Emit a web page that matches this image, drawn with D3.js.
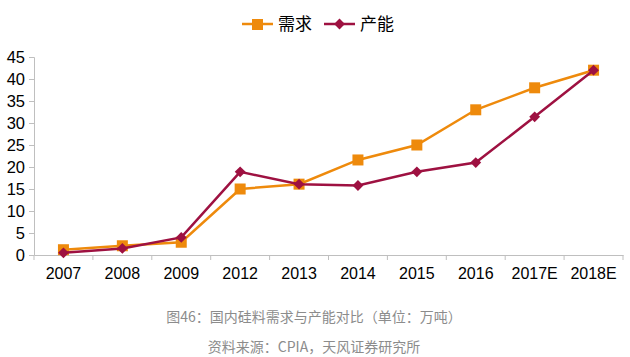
<!DOCTYPE html>
<html><head><meta charset="utf-8">
<script src="https://cdn.jsdelivr.net/npm/d3@7"></script>
<style>body{margin:0;background:#fff}svg{display:block}</style>
</head><body><svg id="c" width="630" height="357"></svg>
<script>
const categories = ["2007","2008","2009","2012","2013","2014","2015","2016","2017E","2018E"];
const demand = [1.2, 2.1, 2.9, 15, 16.1, 21.6, 25, 33, 38, 42];
const capacity = [0.5, 1.5, 4.0, 18.9, 16.1, 15.8, 18.9, 21, 31.4, 42];
const yTicks = [0,5,10,15,20,25,30,35,40,45];
const seriesNames = ["需求","产能"];
const captions = ["图46：国内硅料需求与产能对比（单位：万吨）","资料来源：CPIA，天风证券研究所"];

const svg = d3.select("#c");
const orange = "#EE8A0C", crimson = "#9E1141";
const x = d3.scaleBand().domain(categories).range([34, 623]);
const y = d3.scaleLinear().domain([0,45]).range([255, 57]);

// y axis
const ya = svg.append("g").attr("transform","translate(34,0)")
  .call(d3.axisLeft(y).tickValues(yTicks).tickSize(5).tickPadding(4));
ya.select(".domain").attr("stroke","#BFBFBF");
ya.selectAll(".tick line").attr("stroke","#BFBFBF");
ya.selectAll("text").attr("font-family","Liberation Sans, Arial, sans-serif").attr("font-size",16.5).attr("fill","#000");

// x axis
const xa = svg.append("g").attr("transform","translate(0,255)")
  .call(d3.axisBottom(x).tickSize(0).tickPadding(13));
xa.select(".domain").attr("stroke","#BFBFBF");
xa.selectAll("text").attr("font-family","Liberation Sans, Arial, sans-serif").attr("font-size",16).attr("fill","#000");
const bounds = categories.map(c => x(c)).concat([x.range()[1]]);
xa.selectAll(".bt").data(bounds).enter().append("line")
  .attr("x1",d=>d).attr("x2",d=>d).attr("y1",0).attr("y2",5).attr("stroke","#BFBFBF");

const cx = d => x(d) + x.bandwidth()/2;
const line = d3.line().x((d,i)=>cx(categories[i])).y(d=>y(d));

svg.append("path").datum(demand).attr("d",line).attr("fill","none").attr("stroke",orange).attr("stroke-width",2.5);
svg.selectAll(".sq").data(demand).enter().append("rect")
  .attr("x",(d,i)=>cx(categories[i])-5.5).attr("y",d=>y(d)-5.5).attr("width",11).attr("height",11).attr("fill",orange);

svg.append("path").datum(capacity).attr("d",line).attr("fill","none").attr("stroke",crimson).attr("stroke-width",2.5);
const dia = d3.symbol().type(d3.symbolDiamond2).size(75);
svg.selectAll(".dm").data(capacity).enter().append("path")
  .attr("d",dia).attr("transform",(d,i)=>`translate(${cx(categories[i])},${y(d)})`).attr("fill",crimson);

// legend
const lg = svg.append("g");
lg.append("line").attr("x1",242).attr("x2",273).attr("y1",24).attr("y2",24).attr("stroke",orange).attr("stroke-width",2.5);
lg.append("rect").attr("x",252).attr("y",19).attr("width",11).attr("height",11).attr("fill",orange);
lg.append("text").attr("x",278).attr("y",30).text(seriesNames[0]);
lg.append("line").attr("x1",324).attr("x2",355).attr("y1",24).attr("y2",24).attr("stroke",crimson).attr("stroke-width",2.5);
lg.append("path").attr("d",dia).attr("transform","translate(339.5,24)").attr("fill",crimson);
lg.append("text").attr("x",360).attr("y",30).text(seriesNames[1]);
lg.selectAll("text").attr("font-family","Noto Sans CJK SC, sans-serif").attr("font-size",17).attr("fill","#000");

svg.selectAll(".cap").data(captions).enter().append("text")
  .attr("x",314).attr("y",(d,i)=>322+i*30).attr("text-anchor","middle")
  .attr("font-family","Noto Sans CJK SC, sans-serif").attr("font-size",14).attr("fill","#8c8c8c").text(d=>d);
</script></body></html>
